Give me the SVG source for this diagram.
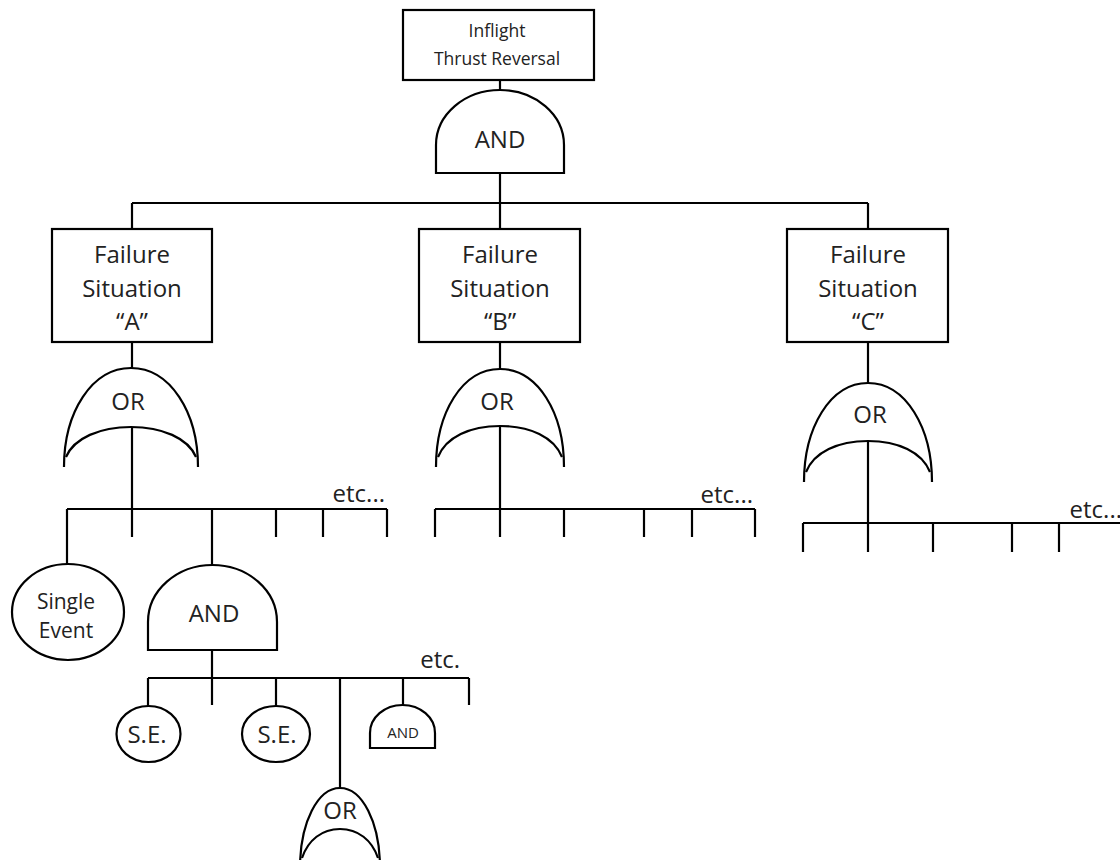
<svg xmlns="http://www.w3.org/2000/svg" width="1120" height="860" viewBox="0 0 1120 860">
<style>
.s{fill:#fff;stroke:#000;stroke-width:2.2}
.g{fill:none;stroke:#000;stroke-width:2.2}
.c line{stroke:#000;stroke-width:2.2}
text{font-family:"Open Sans","Noto Sans",sans-serif;fill:#222;text-anchor:middle}
.f{font-size:24px}
.se{font-size:21px}
.t{font-size:17.5px}
.e{font-size:24px;text-anchor:end}
.sm{font-size:15px}
</style>
<rect width="1120" height="860" fill="#fff"/>
<g class="c" id="connectors">
<line x1="500" y1="80" x2="500" y2="90"/>
<line x1="500" y1="173" x2="500" y2="229"/>
<line x1="132" y1="203" x2="868" y2="203"/>
<line x1="132" y1="203" x2="132" y2="229"/>
<line x1="868" y1="203" x2="868" y2="229"/>
<line x1="132" y1="342" x2="132" y2="368"/>
<line x1="132" y1="427" x2="132" y2="509"/>
<line x1="67" y1="509" x2="387" y2="509"/>
<line x1="67" y1="509" x2="67" y2="565"/>
<line x1="132" y1="509" x2="132" y2="537"/>
<line x1="212" y1="509" x2="212" y2="565"/>
<line x1="276" y1="509" x2="276" y2="537"/>
<line x1="323" y1="509" x2="323" y2="537"/>
<line x1="387" y1="509" x2="387" y2="537"/>
<line x1="500" y1="342" x2="500" y2="369"/>
<line x1="500" y1="426" x2="500" y2="509"/>
<line x1="435" y1="509" x2="755" y2="509"/>
<line x1="435" y1="509" x2="435" y2="537"/>
<line x1="500" y1="509" x2="500" y2="537"/>
<line x1="564" y1="509" x2="564" y2="537"/>
<line x1="644" y1="509" x2="644" y2="537"/>
<line x1="692" y1="509" x2="692" y2="537"/>
<line x1="755" y1="509" x2="755" y2="537"/>
<line x1="868" y1="342" x2="868" y2="383"/>
<line x1="868" y1="441" x2="868" y2="523"/>
<line x1="803" y1="523" x2="1120" y2="523"/>
<line x1="803" y1="523" x2="803" y2="552"/>
<line x1="868" y1="523" x2="868" y2="552"/>
<line x1="933" y1="523" x2="933" y2="552"/>
<line x1="1012" y1="523" x2="1012" y2="552"/>
<line x1="1059" y1="523" x2="1059" y2="552"/>
<line x1="212" y1="650" x2="212" y2="678"/>
<line x1="148" y1="678" x2="469" y2="678"/>
<line x1="148" y1="678" x2="148" y2="706"/>
<line x1="212" y1="678" x2="212" y2="705"/>
<line x1="276" y1="678" x2="276" y2="706"/>
<line x1="340" y1="678" x2="340" y2="788"/>
<line x1="403" y1="678" x2="403" y2="705"/>
<line x1="469" y1="678" x2="469" y2="705"/>
</g>
<g id="top">
<rect class="s" x="403" y="10" width="191" height="70"/>
<text class="t" x="497" y="37">Inflight</text>
<text class="t" x="497" y="65">Thrust Reversal</text>
</g>
<g id="and-top">
<path class="g" d="M436,173 L436,145 A64,55 0 0 1 564,145 L564,173 Z"/>
<text class="f" x="500" y="148">AND</text>
</g>
<g id="fs-a">
<rect class="s" x="52" y="229" width="160" height="113"/>
<text class="f" x="132" y="263">Failure</text>
<text class="f" x="132" y="297">Situation</text>
<text class="f" x="132" y="330">“A”</text>
</g>
<g id="fs-b">
<rect class="s" x="419" y="229" width="161" height="113"/>
<text class="f" x="500" y="263">Failure</text>
<text class="f" x="500" y="297">Situation</text>
<text class="f" x="500" y="330">“B”</text>
</g>
<g id="fs-c">
<rect class="s" x="787" y="229" width="161" height="113"/>
<text class="f" x="868" y="263">Failure</text>
<text class="f" x="868" y="297">Situation</text>
<text class="f" x="868" y="330">“C”</text>
</g>
<g id="or-a">
<path class="g" d="M64,467 C64,412 92,368 131,368 C170,368 198,412 198,467"/>
<path class="g" d="M66,457 C74,438 100,427 131,427 C162,427 188,438 196,457"/>
<text class="f" x="128" y="410">OR</text>
</g>
<g id="or-b">
<path class="g" d="M436,467 C436,413 462,369 500,369 C538,369 564,413 564,467"/>
<path class="g" d="M438,457 C446,437 470,426 500,426 C530,426 554,437 562,457"/>
<text class="f" x="497" y="410">OR</text>
</g>
<g id="or-c">
<path class="g" d="M804,482 C804,428 830,383 868,383 C906,383 932,428 932,482"/>
<path class="g" d="M806,472 C814,452 838,441 868,441 C898,441 922,452 930,472"/>
<text class="f" x="870" y="423">OR</text>
</g>
<g id="etc-a"><text class="e" x="385" y="502">etc...</text></g>
<g id="etc-b"><text class="e" x="753" y="503">etc...</text></g>
<g id="etc-c"><text class="e" x="1122" y="518">etc...</text></g>
<g id="single-event">
<ellipse class="s" cx="68" cy="612" rx="56" ry="48"/>
<text class="se" x="66" y="609">Single</text>
<text class="se" x="66" y="638">Event</text>
</g>
<g id="and-2">
<path class="g" d="M148,650 L148,622 A64.5,57 0 0 1 277,622 L277,650 Z"/>
<text class="f" x="214" y="622">AND</text>
</g>
<g id="etc-2"><text class="e" x="460" y="668">etc.</text></g>
<g id="se-1">
<ellipse class="s" cx="148.5" cy="734" rx="32" ry="28"/>
<text class="f" x="147" y="743">S.E.</text>
</g>
<g id="se-2">
<ellipse class="s" cx="276" cy="734" rx="34" ry="28"/>
<text class="f" x="277" y="743">S.E.</text>
</g>
<g id="and-small">
<path class="g" d="M370,748 L370,733 A32.5,28 0 0 1 435,733 L435,748 Z"/>
<text class="sm" x="403" y="738">AND</text>
</g>
<g id="or-small">
<path class="g" d="M300,868 C300,822 318,788 340,788 C362,788 380,822 380,868"/>
<path class="g" d="M302,858 C308,840 322,829 340,829 C358,829 372,840 378,858"/>
<text class="f" x="340" y="819">OR</text>
</g>
</svg>
